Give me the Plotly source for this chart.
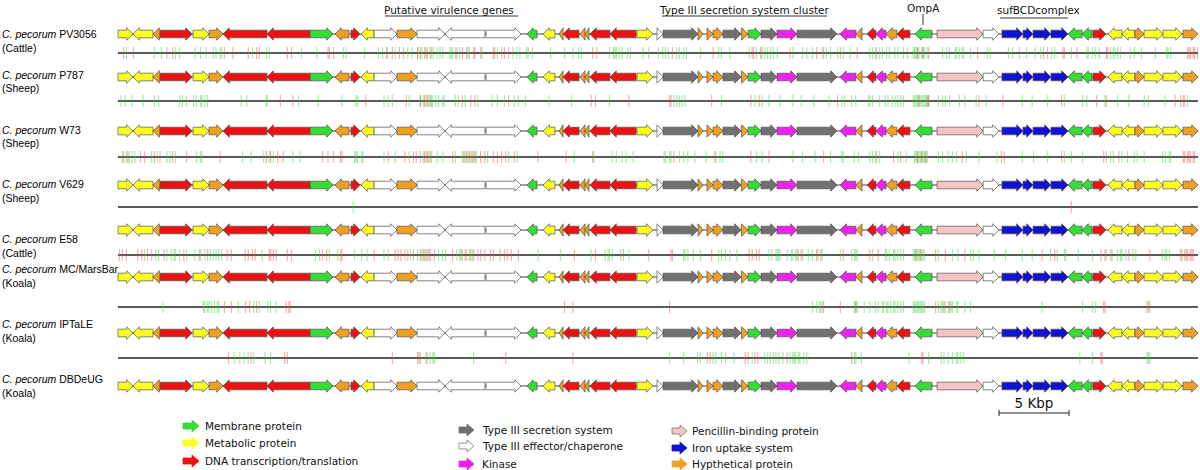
import plotly.graph_objects as go

# ---------------- data ----------------
# gene features (kbp), shared by all genomes
gene_start = [0.0, 1.07, 2.5, 3.0, 5.36, 6.5, 7.5, 10.64, 13.71, 15.5, 16.64, 17.36, 18.29, 19.93, 21.36, 23.36,
              26.29, 29.21, 30.36, 31.5, 31.79, 33.0, 33.36, 33.71, 35.14, 37.07, 38.5, 38.93, 41.43, 42.07, 42.5,
              43.21, 44.5, 45.0, 45.93, 47.07, 48.5, 51.57, 52.71, 53.5, 54.14, 54.86, 55.64, 56.93, 58.5, 61.79,
              63.14, 64.64, 65.36, 66.64, 67.86, 68.86, 69.64, 70.71, 71.71, 72.64, 73.29, 74.64, 76.07]
gene_end = [1.07, 2.5, 3.0, 5.29, 6.5, 7.5, 10.64, 13.71, 15.36, 16.5, 17.29, 18.29, 19.93, 21.36, 23.36, 26.21,
            28.79, 29.93, 31.21, 31.79, 32.93, 33.36, 33.64, 35.14, 37.0, 38.21, 38.93, 41.43, 41.79, 42.5, 43.21,
            44.5, 45.0, 45.93, 47.07, 48.5, 51.36, 52.71, 53.14, 54.14, 54.86, 55.64, 56.57, 58.14, 61.79, 62.93,
            64.64, 65.36, 66.64, 67.86, 68.86, 69.57, 70.57, 71.71, 72.64, 73.29, 74.64, 76.0, 77.14]
gene_strand = [1, -1, -1, 1, 1, 1, -1, -1, 1, -1, 1, -1, 1, 1, 1, -1,
               1, -1, -1, -1, -1, -1, -1, -1, -1, 1, 1, 1, 1, 1, 1,
               1, 1, 1, 1, 1, 1, -1, -1, -1, -1, -1, -1, -1, 1, 1,
               1, 1, 1, 1, -1, -1, 1, -1, -1, 1, 1, 1, 1]
gene_class = ["Metabolic", "Metabolic", "Hyp", "DNA", "Metabolic", "Hyp", "DNA", "DNA", "Membrane", "Hyp", "DNA",
              "Metabolic", "Effector", "Hyp", "Effector", "Effector", "Effector", "Membrane", "Metabolic", "Hyp",
              "DNA", "Hyp", "Hyp", "DNA", "DNA", "Metabolic", "Effector", "T3SS", "Hyp", "Hyp", "Hyp", "T3SS",
              "Hyp", "Membrane", "T3SS", "Kinase", "T3SS", "Kinase", "Hyp", "DNA", "Kinase", "Hyp", "DNA",
              "Membrane", "PBP", "Effector", "Iron", "Iron", "Iron", "Iron", "Membrane", "Membrane", "DNA",
              "Metabolic", "Metabolic", "Hyp", "Metabolic", "Metabolic", "Hyp"]
genome_length = 77.14

strains = ["PV3056", "P787", "W73", "V629", "E58", "MC/MarsBar", "IPTaLE", "DBDeUG"]
hosts = ["Cattle", "Sheep", "Sheep", "Sheep", "Cattle", "Koala", "Koala", "Koala"]

# SNP positions (kbp) between consecutive genomes
snp1_green = [0.6, 2.6, 3.1, 4.1, 4.4, 5.5, 5.9, 6.3, 6.8, 7.0, 7.3, 7.4, 9.6, 10.6, 10.8, 13.1, 14.2, 16.1, 16.3,
              17.6, 18.6, 18.9, 19.2, 19.8, 20.7, 21.0, 21.4, 21.7, 22.0, 22.4, 22.5, 22.8, 23.0, 23.2, 23.7, 23.8,
              23.9, 24.1, 24.4, 25.0, 25.1, 25.9, 27.1, 28.2, 28.5, 28.7, 29.2, 29.3, 29.6, 30.9, 31.9, 32.5, 32.9,
              33.1, 35.1, 35.4, 35.5, 35.6, 35.8, 36.0, 36.4, 36.6, 37.5, 37.9, 38.6, 38.9, 39.1, 39.3, 39.9, 40.1,
              40.4, 40.6, 41.6, 42.9, 43.1, 43.7, 45.1, 45.6, 46.0, 46.2, 46.4, 46.6, 46.8, 47.1, 48.2, 48.9, 49.2,
              49.6, 50.3, 50.6, 50.9, 51.4, 51.8, 52.3, 53.7, 53.9, 54.1, 54.4, 54.6, 54.9, 55.1, 55.5, 55.7, 56.1,
              56.4, 56.8, 56.9, 57.0, 57.1, 57.2, 57.4, 57.5, 57.6, 57.8, 58.9, 59.2, 59.4, 59.8, 59.9, 60.1, 60.3,
              60.4, 60.9, 62.1, 62.3, 63.6, 63.9, 64.4, 64.9, 65.5, 65.9, 66.7, 66.9, 68.1, 69.2, 69.3, 69.6, 69.8,
              70.1, 70.9, 71.1, 71.2, 71.4, 71.6, 72.3, 72.6, 73.1, 74.1, 74.9, 75.0, 75.2]
snp1_red = [0.4, 1.1, 3.5, 3.9, 7.6, 8.2, 9.3, 9.9, 10.1, 12.1, 12.4, 15.0, 15.1, 15.4, 19.2, 19.6, 20.1, 20.4, 21.4,
            21.6, 21.9, 22.1, 22.3, 24.2, 24.6, 24.9, 25.4, 25.5, 26.0, 26.8, 26.9, 27.4, 27.6, 27.9, 33.9, 34.2,
            39.6, 42.5, 45.3, 45.4, 45.9, 48.0, 49.9, 50.4, 51.6, 52.8, 54.2, 57.1, 57.5, 57.9, 61.4, 66.1, 66.4,
            67.5, 67.6, 68.5, 70.6, 70.7, 76.4, 76.5, 76.6, 76.8, 76.9, 77.1]
snp2_green = [0.2, 0.5, 1.0, 1.8, 2.6, 2.9, 4.4, 4.6, 4.9, 5.4, 5.6, 5.9, 6.0, 6.2, 6.4, 8.8, 9.2, 10.6, 10.65, 12.9,
              14.3, 16.0, 17.0, 17.1, 19.0, 19.3, 19.6, 20.8, 21.6, 21.8, 22.0, 22.2, 22.4, 22.45, 22.7, 22.9, 23.2,
              23.3, 24.1, 24.3, 24.8, 25.7, 26.7, 27.1, 27.6, 28.3, 28.6, 29.1, 30.8, 32.4, 35.1, 39.7, 39.9, 40.1,
              40.3, 40.5, 43.1, 45.5, 46.0, 46.5, 47.3, 48.2, 48.8, 49.7, 50.8, 51.7, 51.9, 52.4, 52.7, 53.6, 53.7,
              53.9, 54.4, 54.8, 55.0, 55.3, 55.5, 55.7, 55.9, 56.1, 56.8, 56.9, 57.0, 57.1, 57.2, 57.3, 57.4, 57.5,
              57.6, 57.7, 57.8, 57.9, 58.6, 58.9, 59.1, 59.4, 60.1, 60.5, 61.3, 62.0, 64.6, 65.3, 66.4, 67.6, 68.9,
              69.2, 70.5, 71.4, 72.2, 73.3, 73.6, 74.8, 76.4]
snp2_red = [11.6, 12.5, 17.7, 20.6, 21.6, 21.9, 22.1, 22.3, 24.6, 25.2, 25.5, 27.9, 33.8, 34.1, 36.5, 39.4, 39.5,
            42.4, 45.2, 45.8, 51.4, 57.2, 57.8, 57.9, 61.5, 63.2, 67.4, 69.9, 70.6, 75.5, 75.9, 76.1, 76.2]
snp3_green = [0.3, 0.6, 0.8, 1.0, 1.2, 2.4, 2.8, 3.5, 3.7, 4.1, 5.6, 5.9, 6.0, 8.9, 9.5, 10.4, 10.8, 11.1, 12.5,
              13.0, 16.9, 17.0, 17.1, 17.4, 17.5, 19.0, 19.8, 20.8, 21.8, 22.0, 22.2, 22.4, 22.8, 23.2, 24.1, 24.6,
              24.8, 25.0, 25.2, 25.4, 25.6, 26.4, 27.9, 28.5, 32.6, 34.0, 35.3, 35.6, 36.0, 36.3, 36.8, 39.0, 39.1,
              39.4, 39.5, 40.1, 40.4, 40.7, 41.2, 42.0, 42.6, 43.0, 43.2, 45.6, 46.0, 48.2, 48.9, 49.8, 50.9, 51.7,
              51.8, 52.6, 52.9, 53.7, 53.9, 54.1, 54.4, 55.7, 56.3, 56.9, 57.0, 57.1, 57.2, 57.3, 57.4, 57.5, 57.6,
              57.7, 57.8, 58.6, 58.9, 59.3, 59.6, 59.9, 60.6, 61.5, 62.8, 64.6, 65.4, 66.4, 67.6, 68.1, 68.9, 70.9,
              71.1, 71.7, 72.1, 72.6, 72.8, 73.3, 74.6, 74.8, 75.1, 75.2]
snp3_red = [0.4, 0.7, 1.6, 1.9, 2.6, 3.0, 3.9, 4.9, 7.3, 10.6, 10.9, 11.4, 11.8, 14.6, 15.0, 15.4, 15.9, 16.0, 19.3,
            20.5, 21.1, 21.3, 21.6, 21.9, 22.1, 22.3, 23.9, 24.7, 24.9, 25.1, 25.3, 25.5, 25.9, 26.2, 26.8, 27.1,
            27.4, 27.7, 28.3, 30.0, 32.0, 33.9, 39.7, 42.7, 45.2, 46.5, 50.4, 54.2, 55.4, 55.9, 57.1, 57.4, 57.7,
            60.3, 63.1, 63.3, 67.4, 70.4, 70.6, 71.5, 76.1, 76.2, 76.4, 76.5, 76.6, 76.8, 76.9]
snp4_green = [16.8]
snp4_red = [68.1]
snp5_green = [1.9, 2.7, 2.9, 3.5, 3.8, 4.0, 4.1, 4.4, 4.9, 5.5, 5.9, 6.2, 6.6, 6.8, 7.0, 7.2, 7.4, 10.3, 14.1,
              14.4, 15.1, 15.7, 16.9, 17.4, 17.8, 19.0, 19.3, 20.9, 21.4, 21.7, 21.9, 22.1, 22.9, 23.2, 23.4, 24.2,
              24.4, 24.6, 24.9, 25.2, 25.3, 30.0, 31.6, 33.8, 34.8, 35.0, 35.1, 35.3, 35.9, 36.5, 40.4, 40.5, 40.7,
              41.1, 41.6, 42.9, 43.1, 43.4, 43.7, 44.2, 46.5, 46.7, 47.0, 47.1, 47.2, 47.3, 47.8, 48.1, 48.2, 48.4,
              48.6, 48.9, 49.3, 49.6, 50.0, 50.3, 51.6, 52.4, 52.6, 52.7, 52.8, 53.9, 54.8, 54.9, 55.1, 55.4, 55.5,
              55.7, 55.9, 56.1, 56.8, 56.9, 57.0, 57.1, 57.2, 57.3, 57.4, 57.5, 57.6, 58.6, 59.6, 60.0, 60.9, 61.1,
              61.5, 62.6, 63.4, 64.6, 65.3, 66.6, 67.1, 67.6, 67.7, 68.6, 69.6, 70.6, 70.9, 71.4, 71.6, 71.7, 72.0,
              72.5, 72.7, 74.6, 74.8, 74.9, 75.1]
snp5_red = [0.1, 0.3, 0.6, 1.4, 1.7, 2.1, 2.4, 3.3, 4.7, 5.8, 6.4, 7.8, 8.1, 9.1, 9.3, 9.6, 9.8, 10.8, 10.9, 11.1,
            11.3, 12.1, 12.4, 14.6, 14.9, 15.9, 16.0, 18.3, 19.8, 20.0, 20.2, 20.5, 20.7, 21.1, 21.6, 21.8, 22.0,
            22.2, 22.3, 22.6, 23.9, 24.5, 24.8, 25.1, 25.4, 25.7, 25.9, 26.2, 26.6, 26.8, 27.3, 27.6, 27.8, 28.1,
            28.6, 32.6, 34.1, 36.1, 37.9, 39.5, 39.6, 42.4, 45.1, 45.3, 45.6, 45.8, 48.5, 48.8, 49.9, 50.2, 51.8,
            53.7, 54.3, 57.0, 57.3, 58.4, 59.1, 60.5, 66.0, 66.9, 70.2, 70.5, 71.0, 72.2, 73.7, 75.9, 76.0, 76.2,
            76.3, 76.4, 76.6, 76.7, 76.8]
snp6_green = [3.2, 6.1, 6.2, 6.4, 6.5, 6.7, 6.9, 7.1, 7.2, 8.6, 9.7, 10.1, 10.7, 10.9, 11.3, 49.6, 49.9, 50.1, 50.2,
              50.3, 52.6, 52.7, 52.8, 53.3, 53.7, 54.1, 54.3, 54.6, 54.7, 54.9, 55.0, 55.2, 55.4, 55.5, 55.7, 55.9,
              56.1, 56.8, 56.9, 57.0, 57.1, 57.2, 57.3, 57.4, 57.5, 57.6, 58.6, 58.8, 58.9, 59.1, 59.3, 59.5, 59.6,
              59.9, 60.0, 60.5, 60.9, 66.0, 68.9, 69.6, 69.8, 73.6]
snp6_red = [7.6, 8.1, 9.1, 9.4, 9.9, 12.0, 12.2, 12.3, 31.9, 32.5, 39.4, 50.4, 51.6, 52.7, 58.4, 59.0, 59.4, 70.4,
            70.5, 73.5, 73.7]
snp7_green = [8.3, 8.7, 9.0, 9.3, 9.7, 10.5, 10.9, 21.6, 22.1, 22.3, 22.5, 22.6, 25.4, 39.4, 40.4, 41.4, 41.6, 42.5,
              42.7, 43.1, 43.4, 44.0, 45.3, 46.2, 46.4, 46.6, 46.8, 47.0, 47.2, 47.5, 48.0, 48.2, 48.3, 48.4, 48.6,
              48.7, 49.0, 49.2, 52.6, 52.7, 53.1, 56.5, 57.9, 58.8, 59.0, 59.3, 59.6, 59.9, 60.0, 60.2, 60.4, 68.7,
              69.6, 73.5, 73.6, 73.7]
snp7_red = [7.9, 9.5, 11.9, 12.1, 19.6, 21.4, 21.5, 22.0, 27.7, 32.5, 42.1, 42.3, 44.8, 45.0, 45.5, 45.7, 47.8, 52.4,
            57.4, 57.5, 70.2, 70.3]

snp_green = [snp1_green, snp2_green, snp3_green, snp4_green, snp5_green, snp6_green, snp7_green]
snp_red = [snp1_red, snp2_red, snp3_red, snp4_red, snp5_red, snp6_red, snp7_red]

legend_classes = ["Membrane", "Metabolic", "DNA", "T3SS", "Effector", "Kinase", "PBP", "Iron", "Hyp"]
legend_labels = ["Membrane protein", "Metabolic protein", "DNA transcription/translation",
                 "Type III secretion system", "Type III effector/chaperone", "Kinase",
                 "Pencillin-binding protein", "Iron uptake system", "Hypthetical protein"]
scale_kbp = 5

# ---------------- styling / layout ----------------
W, H = 1200, 470
PX_PER_KBP = 14.0
X0_PX = 118
xrange = [-X0_PX / PX_PER_KBP, (W - X0_PX) / PX_PER_KBP]

COLORS = {"Membrane": "#33dd33", "Metabolic": "#ffff1e", "DNA": "#ee1111", "T3SS": "#707070",
          "Effector": "#ffffff", "Kinase": "#ee22ee", "PBP": "#f7c4c4", "Iron": "#1212d2", "Hyp": "#f0a020"}
OUTLINE = "#505050"

ROW_Y = [34, 77, 131, 185, 230, 277, 333, 386]
SNP_Y = [53, 101, 157, 207, 255, 307, 358]
LABEL_Y = [34, 75, 130, 184, 239, 269, 324, 379]

FONT_SANS = "DejaVu Sans"
FONT_LABEL = "Liberation Sans"


def px_paper_x(px):
    return px / W


def px_paper_y(py):
    return 1 - py / H


def arrow(s, e, strand, yc, body=3.8, head_h=6.2, head_len=0.45):
    L = e - s
    hl = min(head_len, L)
    if strand > 0:
        b = e - hl
        xs = [s, b, b, e, b, b, s, s]
    else:
        b = s + hl
        xs = [e, b, b, s, b, b, e, e]
    ys = [yc - body, yc - body, yc - head_h, yc, yc + head_h, yc + body, yc + body, yc - body]
    return xs, ys


fig = go.Figure()

# backbone lines for genomes
for y in ROW_Y:
    fig.add_trace(go.Scatter(x=[0, genome_length], y=[y, y], mode="lines",
                             line=dict(color="#444444", width=1), hoverinfo="skip"))

# gene arrows grouped by class
for cls, col in COLORS.items():
    xs, ys = [], []
    for y in ROW_Y:
        for s, e, st, c in zip(gene_start, gene_end, gene_strand, gene_class):
            if c != cls:
                continue
            ax, ay = arrow(s, e, st, y)
            xs += ax + [None]
            ys += ay + [None]
    if xs:
        fig.add_trace(go.Scatter(x=xs, y=ys, mode="lines", fill="toself", fillcolor=col,
                                 line=dict(color=OUTLINE, width=0.7), hoverinfo="skip"))

# SNP lines and ticks
TICK_H = 6
for i, y in enumerate(SNP_Y):
    fig.add_trace(go.Scatter(x=[0, genome_length], y=[y, y], mode="lines",
                             line=dict(color="#222222", width=1.3), hoverinfo="skip"))
    for vals, col in ((snp_green[i], "rgba(50,210,50,0.42)"), (snp_red[i], "rgba(235,70,70,0.42)")):
        xs, ys = [], []
        for v in vals:
            xs += [v, v, None]
            ys += [y - TICK_H, y + TICK_H, None]
        fig.add_trace(go.Scatter(x=xs, y=ys, mode="lines", line=dict(color=col, width=1.2),
                                 hoverinfo="skip"))

annotations = []
# genome labels
for strain, host, ly in zip(strains, hosts, LABEL_Y):
    annotations.append(dict(x=0, y=px_paper_y(ly), xref="paper", yref="paper", xanchor="left",
                            yanchor="middle", showarrow=False,
                            text="<i>C. pecorum</i> " + strain,
                            font=dict(family=FONT_LABEL, size=10.5, color="#000")))
    annotations.append(dict(x=0, y=px_paper_y(ly + 13.5), xref="paper", yref="paper", xanchor="left",
                            yanchor="middle", showarrow=False, text="(" + host + ")",
                            font=dict(family=FONT_LABEL, size=10.5, color="#000")))

# region annotations at top
shapes = []
top_notes = [("Putative virulence genes", 385, 518, 449, 10.5, 16),
             ("Type III secretion system cluster", 662, 827, 744, 9.5, 16),
             ("sufBCDcomplex", 1000, 1068, 1038, 9.5, 18)]
for txt, a, b, cx, ty, uy in top_notes:
    annotations.append(dict(x=px_paper_x(cx), y=px_paper_y(ty), xref="paper", yref="paper",
                            xanchor="center", yanchor="middle", showarrow=False, text=txt,
                            font=dict(family=FONT_SANS, size=10.5, color="#111")))
    shapes.append(dict(type="line", xref="paper", yref="paper", x0=px_paper_x(a), x1=px_paper_x(b),
                       y0=px_paper_y(uy), y1=px_paper_y(uy), line=dict(color="#333", width=1)))
annotations.append(dict(x=px_paper_x(923), y=px_paper_y(8), xref="paper", yref="paper",
                        xanchor="center", yanchor="middle", showarrow=False, text="OmpA",
                        font=dict(family=FONT_SANS, size=10.5, color="#111")))
shapes.append(dict(type="line", xref="paper", yref="paper", x0=px_paper_x(923), x1=px_paper_x(923),
                   y0=px_paper_y(14), y1=px_paper_y(25), line=dict(color="#333", width=1)))

# legend (custom arrows)
leg_cols = [(183, 199, 203), (459, 474, 480), (672, 687, 690)]
leg_rows = [[426, 443, 461], [430, 446, 464], [431, 448, 464]]
for k, (cls, lab) in enumerate(zip(legend_classes, legend_labels)):
    c, r = divmod(k, 3)
    a_px, b_px, t_px = leg_cols[c]
    y = leg_rows[c][r]
    s = (a_px - X0_PX) / PX_PER_KBP
    e = (b_px - X0_PX) / PX_PER_KBP
    ax, ay = arrow(s, e, 1, y, body=3.0, head_h=6.0, head_len=0.5)
    fig.add_trace(go.Scatter(x=ax, y=ay, mode="lines", fill="toself", fillcolor=COLORS[cls],
                             line=dict(color="#777777" if cls in ("Effector", "PBP") else COLORS[cls],
                                       width=0.8), hoverinfo="skip"))
    annotations.append(dict(x=px_paper_x(t_px), y=px_paper_y(y), xref="paper", yref="paper",
                            xanchor="left", yanchor="middle", showarrow=False, text=lab,
                            font=dict(family=FONT_SANS, size=10.5, color="#111")))

# scale bar
sb0 = (999 - X0_PX) / PX_PER_KBP
sb_y = 413
fig.add_trace(go.Scatter(x=[sb0, sb0 + scale_kbp, None, sb0, sb0, None, sb0 + scale_kbp, sb0 + scale_kbp],
                         y=[sb_y, sb_y, None, sb_y - 3, sb_y + 3, None, sb_y - 3, sb_y + 3],
                         mode="lines", line=dict(color="#222", width=1), hoverinfo="skip"))
fig.add_trace(go.Scatter(x=[sb0 + scale_kbp / 2], y=[sb_y - 8], mode="text", text=[f"{scale_kbp} Kbp"],
                         textfont=dict(family=FONT_SANS, size=13.5, color="#111"), hoverinfo="skip"))

fig.update_layout(
    width=W, height=H, margin=dict(l=0, r=0, t=0, b=0),
    paper_bgcolor="white", plot_bgcolor="white", showlegend=False,
    xaxis=dict(range=xrange, visible=False, fixedrange=True),
    yaxis=dict(range=[H, 0], visible=False, fixedrange=True),
    annotations=annotations, shapes=shapes,
)

fig.write_html("out.html", config={"displayModeBar": False, "staticPlot": True},
               post_script="document.body.style.margin='0';document.body.style.overflow='hidden';")
